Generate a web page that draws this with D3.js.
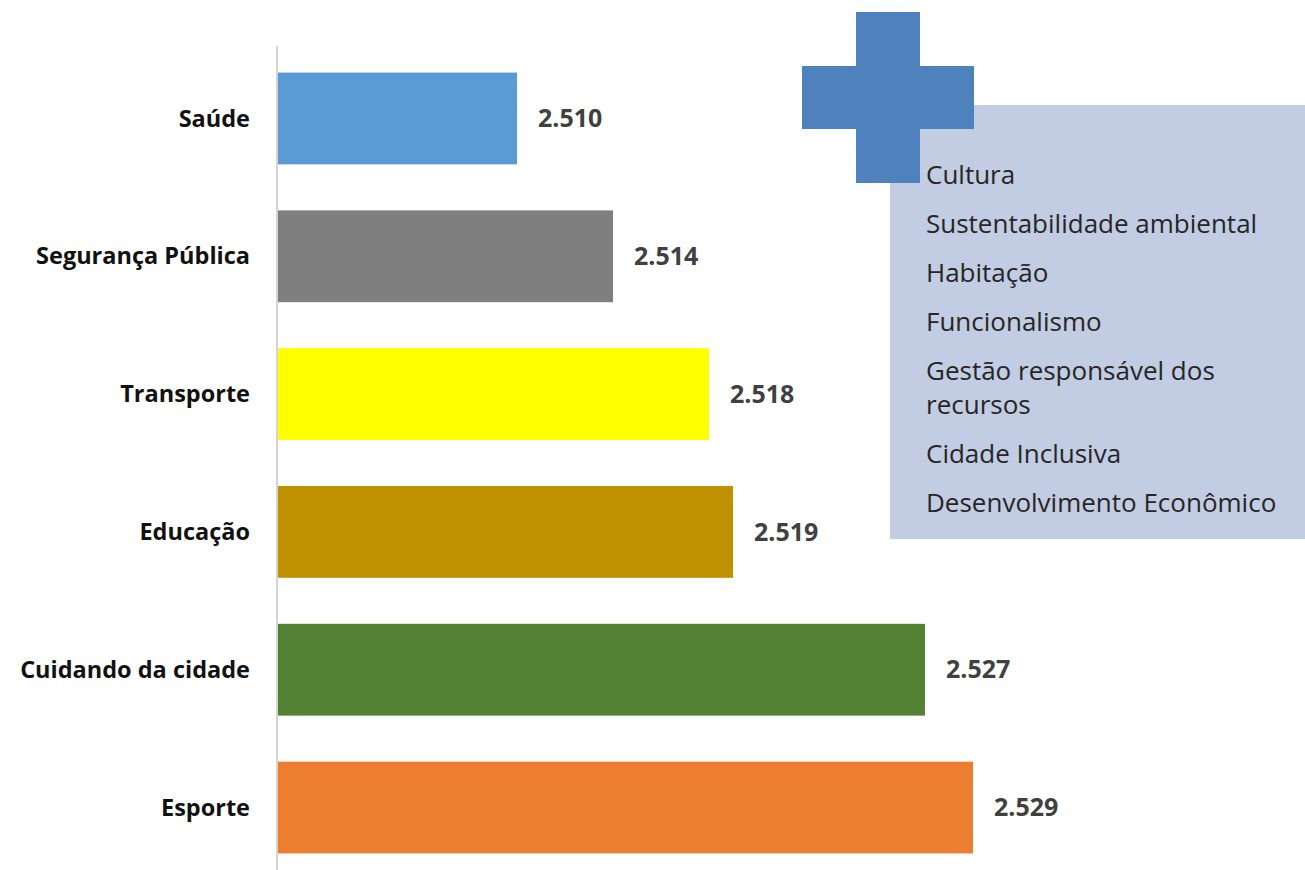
<!DOCTYPE html>
<html>
<head>
<meta charset="utf-8">
<script src="https://cdn.jsdelivr.net/npm/d3@7"></script>
<style>
  body { margin: 0; background: #fff; }
  svg { display: block; font-family: "Open Sans", "Noto Sans", sans-serif; }
</style>
</head>
<body>
<article></article>
<script>
const m = { width: 1305, height: 870 }

// data
const categories = ['Saúde', 'Segurança Pública', 'Transporte', 'Educação', 'Cuidando da cidade', 'Esporte']
const values = [2.510, 2.514, 2.518, 2.519, 2.527, 2.529]
const colors = ['#5b9bd5', '#7f7f7f', '#ffff00', '#bf9000', '#548235', '#ed7d31']
const otherItems = [
    ['Cultura'],
    ['Sustentabilidade ambiental'],
    ['Habitação'],
    ['Funcionalismo'],
    ['Gestão responsável dos', 'recursos'],
    ['Cidade Inclusiva'],
    ['Desenvolvimento Econômico']
]

const svg = d3.select('article').append('svg')
    .attr('width', m.width)
    .attr('height', m.height)

const x = d3.scaleLinear()
    .domain([2.500, 2.530])
    .range([277, 997])

const y = d3.scaleBand()
    .domain(categories)
    .range([45, 881])
    .paddingInner(0.334)
    .paddingOuter(0.2)

// bars
svg.append('g').selectAll('rect')
    .data(categories)
    .enter()
    .append('rect')
    .attr('x', x(2.500))
    .attr('y', d => y(d))
    .attr('width', (d, i) => x(values[i]) - x(2.500))
    .attr('height', y.bandwidth())
    .attr('fill', (d, i) => colors[i])

// axis line
svg.append('line')
    .attr('x1', x(2.500)).attr('x2', x(2.500))
    .attr('y1', 46).attr('y2', 870)
    .attr('stroke', '#d4d4d4')
    .attr('stroke-width', 2)

// category labels
svg.append('g').selectAll('text')
    .data(categories)
    .enter()
    .append('text')
    .attr('x', 250)
    .attr('y', d => y(d) + y.bandwidth() / 2)
    .attr('dy', '0.35em')
    .attr('text-anchor', 'end')
    .attr('font-size', 23.5)
    .attr('font-weight', 'bold')
    .attr('fill', '#111')
    .text(d => d)

// value labels
svg.append('g').selectAll('text')
    .data(categories)
    .enter()
    .append('text')
    .attr('x', (d, i) => x(values[i]) + 21)
    .attr('y', d => y(d) + y.bandwidth() / 2)
    .attr('dy', '0.35em')
    .attr('font-size', 25)
    .attr('font-weight', 'bold')
    .attr('fill', '#404040')
    .text((d, i) => d3.format('.3f')(values[i]))

// box with the other themes
svg.append('rect')
    .attr('x', 890).attr('y', 105)
    .attr('width', 420).attr('height', 434)
    .attr('fill', '#c2cce2')

// plus sign
const plus = svg.append('g').attr('fill', '#4f81bd')
plus.append('rect').attr('x', 856).attr('y', 12).attr('width', 64).attr('height', 171)
plus.append('rect').attr('x', 802).attr('y', 66).attr('width', 172).attr('height', 63)

let ty = 184
const list = svg.append('g')
otherItems.forEach(lines => {
    lines.forEach((t, j) => {
        list.append('text')
            .attr('x', 926)
            .attr('y', ty + j * 34)
            .attr('font-size', 26)
            .attr('fill', '#262626')
            .text(t)
    })
    ty += 49 + (lines.length - 1) * 34
})
</script>
</body>
</html>
